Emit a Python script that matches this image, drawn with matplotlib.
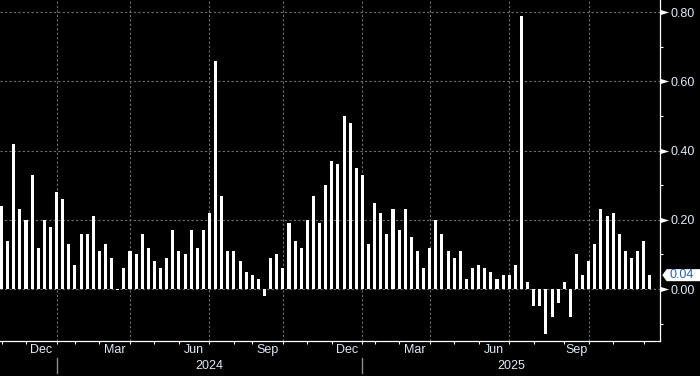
import matplotlib.pyplot as plt
from matplotlib.path import Path
from matplotlib.patches import Polygon

plt.rcParams['font.family'] = ['Liberation Sans', 'DejaVu Sans']

# weekly change, oldest first (one bar per release)
values = [0.24, 0.14, 0.42, 0.23, 0.20, 0.33, 0.12, 0.20, 0.18, 0.28,
          0.26, 0.13, 0.07, 0.16, 0.16, 0.21, 0.11, 0.13, 0.09, -0.003,
          0.06, 0.11, 0.10, 0.16, 0.12, 0.08, 0.06, 0.09, 0.17, 0.11,
          0.10, 0.17, 0.12, 0.17, 0.22, 0.66, 0.27, 0.11, 0.11, 0.08,
          0.05, 0.04, 0.03, -0.02, 0.09, 0.10, 0.06, 0.19, 0.14, 0.12,
          0.20, 0.27, 0.19, 0.30, 0.37, 0.36, 0.50, 0.48, 0.35, 0.33,
          0.13, 0.25, 0.22, 0.16, 0.23, 0.17, 0.23, 0.15, 0.11, 0.06,
          0.12, 0.20, 0.16, 0.11, 0.09, 0.11, 0.03, 0.06, 0.07, 0.06,
          0.05, 0.03, 0.04, 0.04, 0.07, 0.79, 0.02, -0.05, -0.05, -0.13,
          -0.08, -0.04, 0.02, -0.08, 0.10, 0.04, 0.08, 0.13, 0.23, 0.21,
          0.22, 0.16, 0.11, 0.09, 0.11, 0.14, 0.04]

# first bar of each month
month_starts = [0, 4, 9, 12, 16, 21, 25, 29, 34, 38, 41, 46, 50,
                54, 59, 61, 65, 70, 74, 78, 83, 87, 92, 96, 100, 105]
month_names = ['Nov', 'Dec', 'Jan', 'Feb', 'Mar', 'Apr', 'May', 'Jun', 'Jul',
               'Aug', 'Sep', 'Oct', 'Nov', 'Dec', 'Jan', 'Feb', 'Mar', 'Apr',
               'May', 'Jun', 'Jul', 'Aug', 'Sep', 'Oct', 'Nov', 'Dec']
years = ['2024', '2025']
shown_months = ['Dec', 'Mar', 'Jun', 'Sep']
grid_months = ['Jan', 'Apr', 'Jul', 'Oct']
yticks = [0.0, 0.2, 0.4, 0.6, 0.8]
yminor = [-0.1, 0.1, 0.3, 0.5, 0.7]

txt = '#dfeaf7'
grid = '#6e6e6e'

fig = plt.figure(figsize=(7, 3.76), dpi=100, facecolor='black')
ax = fig.add_axes([0, 35 / 376, 660.3 / 700, 341 / 376])
ax.set_facecolor('black')

xmin, xmax = -0.25, 107.7
ax.set_xlim(xmin, xmax)
ax.set_ylim(-0.1503, 0.8355)

ax.bar(range(len(values)), values, width=0.5, color='white', linewidth=0, zorder=3)

for y in yticks:
    ax.axhline(y, color=grid, lw=0.8, ls=(0, (2, 2)), zorder=1)
for s, m in zip(month_starts, month_names):
    if m in grid_months:
        ax.axvline(s, color=grid, lw=0.8, ls=(0, (2, 2)), zorder=1)

for sp in ['top', 'left']:
    ax.spines[sp].set_visible(False)
for sp in ['right', 'bottom']:
    ax.spines[sp].set_color('white')
    ax.spines[sp].set_linewidth(0.9)

# x axis: month ticks, labels centred in the month (complete months only)
ax.set_xticks([])
ax.set_xticks(month_starts, minor=True)
ax.tick_params(axis='x', which='minor', direction='out', length=2, width=0.8,
               color='white', labelbottom=False)
xt = ax.get_xaxis_transform()
for s, e, m in zip(month_starts[:-1], month_starts[1:], month_names[:-1]):
    if m in shown_months:
        ax.text((s + e) / 2, -0.027, m, transform=xt, ha='center', va='center',
                color=txt, fontsize=9)

jan = [s for s, m in zip(month_starts, month_names) if m == 'Jan']
for i, s in enumerate(jan):
    ax.plot([s, s], [-0.049, -0.095], transform=xt, clip_on=False,
            color='#8c8c8c', lw=1)
    e = jan[i + 1] if i + 1 < len(jan) else xmax
    ax.text((s + e) / 2, -0.072, years[i], transform=xt, ha='center',
            va='center', color=txt, fontsize=9)

# y axis on the right with arrow ticks
ax.yaxis.tick_right()
ax.set_yticks(yticks)
ax.set_yticklabels([f'{y:.2f}' for y in yticks])
ax.set_yticks(yminor, minor=True)
ax.tick_params(axis='y', which='major', length=0, pad=7, labelsize=9,
               labelcolor=txt)
ax.tick_params(axis='y', which='minor', direction='out', length=2.4,
               width=0.8, color='white')

arrow = Path([(0, -0.3), (1, 0), (0, 0.3), (0, -0.3)])
yt = ax.get_yaxis_transform()
ax.plot([1] * len(yticks), yticks, ls='none', marker=arrow, ms=12.5,
        color='white', mew=0, transform=yt, clip_on=False, zorder=5)

# last value tag
v = values[-1]
h = 0.0174
tag = Polygon([(1.003, v), (1.0097, v + h), (1.07, v + h), (1.07, v - h),
               (1.0097, v - h)], closed=True, transform=yt, clip_on=False,
              facecolor='white', edgecolor='none', zorder=6)
ax.add_patch(tag)
ax.text(1.0136, v, f'{v:.2f}', transform=yt, ha='left', va='center',
        color='#2b5ea6', fontsize=9, zorder=7)

fig.savefig('out.png', dpi=100, facecolor='black')
